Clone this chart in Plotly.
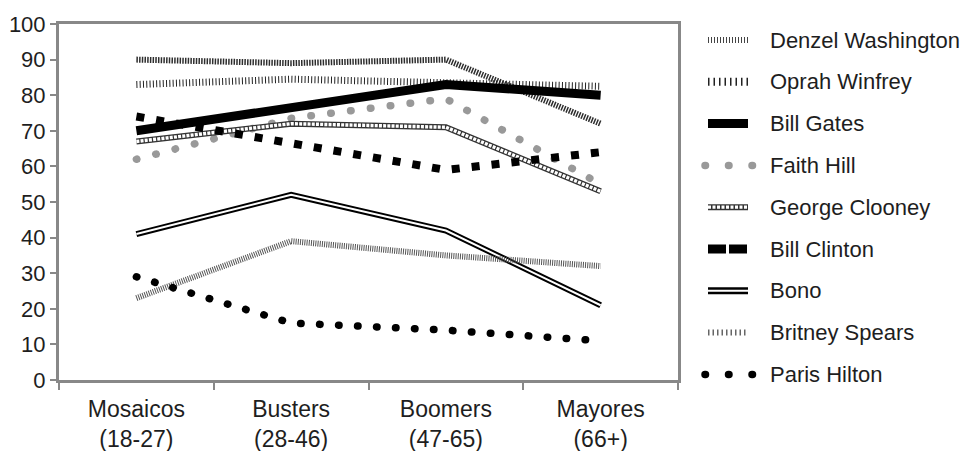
import plotly.graph_objects as go

# Age groups on the x axis
categories = ["Mosaicos<br>(18-27)", "Busters<br>(28-46)", "Boomers<br>(47-65)", "Mayores<br>(66+)"]

# Percentages per celebrity
denzel = [90, 89, 90, 72]
oprah = [83, 84.5, 83.5, 82.5]
gates = [70, 76.5, 83, 80]
faith = [62, 73.5, 79, 55]
clooney = [67, 72, 71, 53]
clinton = [74, 66.5, 59, 64]
bono = [41, 52, 42, 21]
britney = [23, 39, 35, 32]
paris = [29, 16, 14, 11]

names = ["Denzel Washington", "Oprah Winfrey", "Bill Gates", "Faith Hill",
         "George Clooney", "Bill Clinton", "Bono", "Britney Spears", "Paris Hilton"]
y_ticks = list(range(0, 101, 10))

W, H = 967, 451
L, R, T, B = 59, 678, 24, 380
FONT = "Liberation Sans, Arial, sans-serif"
TXT = "#1e1e1e"

fig = go.Figure()
round_traces = []


def add(y, color, width, dash="solid", name=None, rnd=False):
    fig.add_trace(go.Scatter(
        x=categories, y=y, mode="lines", name=name, showlegend=False,
        line=dict(color=color, width=width, dash=dash), hoverinfo="skip"))
    if rnd:
        round_traces.append(len(fig.data) - 1)


add(denzel, "#2e2e2e", 6, "1.5px,1.2px", names[0])
add(oprah, "#222222", 7, "1px,2.3px", names[1])
add(gates, "#000000", 9, "solid", names[2])
add(faith, "#999999", 7.5, "0.5px,19.5px", names[3], rnd=True)
add(clooney, "#333333", 6, "solid", names[4])
add(clooney, "#ffffff", 3.4, "3px,1.2px")
add(clinton, "#000000", 8, "8px,12px", names[5])
add(bono, "#000000", 6, "solid", names[6])
add(bono, "#ffffff", 2, "solid")
add(britney, "#555555", 6, "1px,1.2px", names[7])
add(paris, "#000000", 7.5, "0.5px,18.5px", names[8], rnd=True)


def px(xp):
    return (xp - L) / (R - L)


def py(yp):
    return (B - yp) / (B - T)


# Legend drawn at the right of the plot area
shapes = []
annotations = []
round_shapes = []
row0, step = 40, 41.8
x0, x1 = 708, 748


def seg(y, color, width, dash="solid", xa=x0, xb=x1, rnd=False):
    shapes.append(dict(type="line", xref="paper", yref="paper",
                       x0=px(xa), x1=px(xb), y0=py(y), y1=py(y),
                       line=dict(color=color, width=width, dash=dash)))
    if rnd:
        round_shapes.append(len(shapes) - 1)


for i, nm in enumerate(names):
    yc = row0 + step * i
    if i == 0:
        seg(yc, "#444444", 6, "1px,2px")
    elif i == 1:
        seg(yc, "#222222", 8, "1.5px,4px")
    elif i == 2:
        seg(yc, "#000000", 9)
    elif i == 3:
        seg(yc, "#999999", 7.5, "0.5px,23px", 705, 755, rnd=True)
    elif i == 4:
        seg(yc, "#333333", 6)
        seg(yc, "#ffffff", 3.2, "3px,1.5px")
    elif i == 5:
        seg(yc, "#000000", 9, "18px,3px")
    elif i == 6:
        seg(yc, "#000000", 7)
        seg(yc, "#ffffff", 2)
    elif i == 7:
        seg(yc, "#666666", 6, "1.5px,3px")
    elif i == 8:
        seg(yc, "#000000", 7.5, "0.5px,23px", 705, 755, rnd=True)
    annotations.append(dict(xref="paper", yref="paper", x=px(768), y=py(yc),
                            xanchor="left", yanchor="middle", text=nm, showarrow=False,
                            font=dict(family=FONT, size=22, color=TXT)))

fig.update_layout(
    width=W, height=H,
    margin=dict(l=L, r=W - R, t=T, b=H - B),
    paper_bgcolor="white", plot_bgcolor="white",
    showlegend=False,
    shapes=shapes, annotations=annotations,
    font=dict(family=FONT, size=22, color=TXT),
)
fig.update_xaxes(
    type="category", range=[-0.5, 3.5], tickson="boundaries", automargin=False,
    ticks="outside", ticklen=7, tickwidth=2, tickcolor="#888888",
    ticklabelstandoff=6,
    showline=True, linecolor="#888888", linewidth=3, mirror=True,
    showgrid=False, zeroline=False,
    tickfont=dict(family=FONT, size=23, color=TXT),
)
fig.update_yaxes(
    range=[0, 100], tickvals=y_ticks, ticktext=[str(v) for v in y_ticks],
    automargin=False,
    ticks="outside", ticklen=6, tickwidth=2, tickcolor="#888888",
    showline=True, linecolor="#888888", linewidth=3, mirror=True,
    showgrid=False, zeroline=False,
    tickfont=dict(family=FONT, size=22, color=TXT),
)

post = """
var gd = document.getElementById('{plot_id}');
var rt = %s, rs = %s;
function roundCaps() {
  var tr = gd.querySelectorAll('.scatterlayer .trace');
  rt.forEach(function(i) {
    if (tr[i]) tr[i].querySelectorAll('path.js-line').forEach(function(p) {
      p.style.strokeLinecap = 'round';
    });
  });
  gd.querySelectorAll('.shapelayer path').forEach(function(p) {
    var k = parseInt(p.getAttribute('data-index'));
    if (rs.indexOf(k) >= 0) p.style.strokeLinecap = 'round';
  });
}
roundCaps();
gd.on('plotly_afterplot', roundCaps);
""" % (round_traces, round_shapes)

fig.write_html("out.html", post_script=post)
